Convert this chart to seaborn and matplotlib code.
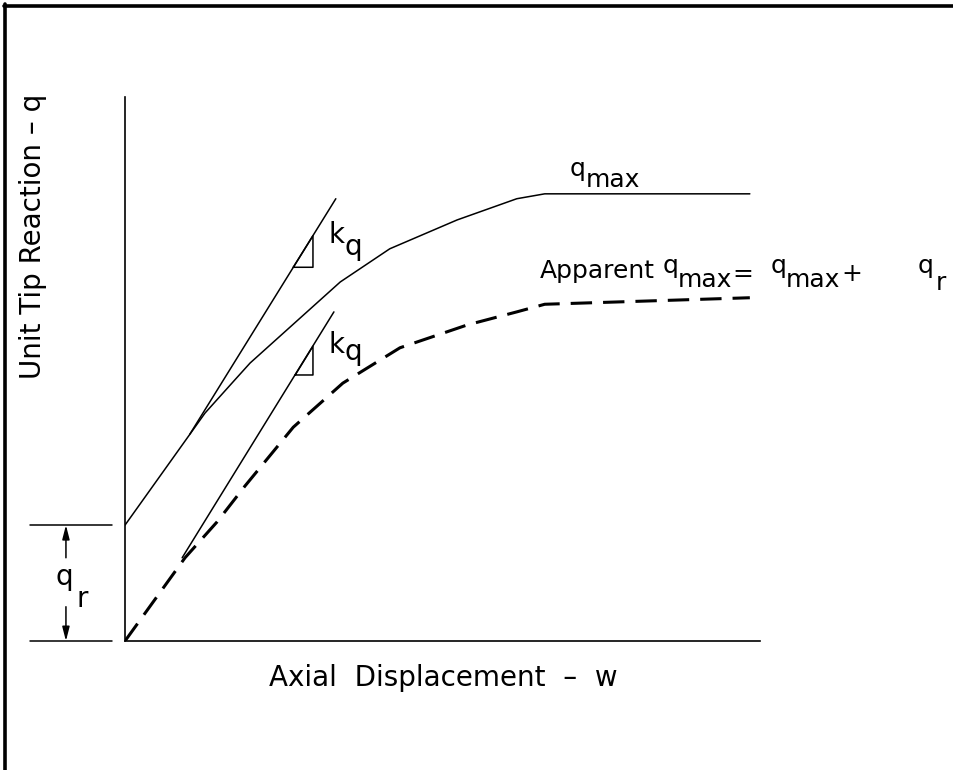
import matplotlib
matplotlib.use("Agg")
import matplotlib.pyplot as plt
import seaborn as sns
from matplotlib.lines import Line2D

# schematic data, axial displacement w vs unit tip reaction q (arbitrary units 0-10)
w_apparent = [0.00, 1.26, 1.73, 1.97, 3.39, 4.17, 5.23, 6.17, 6.61, 9.84]
q_apparent = [2.13, 4.19, 4.80, 5.11, 6.60, 7.21, 7.74, 8.13, 8.22, 8.22]

w_true = [0.00, 0.945, 1.45, 1.89, 2.65, 3.43, 4.33, 5.39, 6.17, 6.61, 9.84]
q_true = [0.00, 1.53, 2.19, 2.85, 3.93, 4.74, 5.39, 5.81, 6.05, 6.19, 6.31]

q_residual = 2.13

# initial stiffness (k_q) tangents
w_tan1 = [1.02, 3.32]
q_tan1 = [3.80, 8.13]
w_tan2 = [0.90, 3.29]
q_tan2 = [1.53, 6.05]

# slope triangles
w_tri1 = [2.65, 2.96, 2.96, 2.65]
q_tri1 = [6.87, 6.87, 7.45, 6.87]
w_tri2 = [2.68, 2.96, 2.96, 2.68]
q_tri2 = [4.89, 4.89, 5.42, 4.89]

FS = 20
FS_NOTE = 18

sns.set_theme(style="white")
plt.rcParams['font.family'] = ['DejaVu Sans']
plt.rcParams['text.color'] = 'black'

fig = plt.figure(figsize=(9.54, 7.70), dpi=100)
ax = fig.add_axes([125 / 954, 129 / 770, 635 / 954, 544 / 770])
ax.set_xlim(0, 10)
ax.set_ylim(0, 10)
ax.set_xticks([])
ax.set_yticks([])
for side in ["top", "right"]:
    ax.spines[side].set_visible(False)
for side in ["left", "bottom"]:
    ax.spines[side].set_color("black")
    ax.spines[side].set_linewidth(1.2)

line_kw = dict(sort=False, estimator=None, color="black", ax=ax)
sns.lineplot(x=w_apparent, y=q_apparent, lw=1.1, **line_kw)
sns.lineplot(x=w_true, y=q_true, lw=2.2, linestyle=(0, (7, 3.6)), **line_kw)
sns.lineplot(x=w_tan1, y=q_tan1, lw=1.1, **line_kw)
sns.lineplot(x=w_tan2, y=q_tan2, lw=1.1, **line_kw)
sns.lineplot(x=w_tri1, y=q_tri1, lw=1.1, **line_kw)
sns.lineplot(x=w_tri2, y=q_tri2, lw=1.1, **line_kw)

# q_r dimension at the left
for qv in [0, q_residual]:
    ax.plot([-1.50, -0.20], [qv, qv], color="black", lw=1.1, clip_on=False)
arrow = dict(arrowstyle="-|>,head_length=0.7,head_width=0.18", color="black",
             lw=1.1, shrinkA=0, shrinkB=0)
ax.annotate("", xy=(-0.93, q_residual), xytext=(-0.93, 1.53), arrowprops=arrow,
            annotation_clip=False)
ax.annotate("", xy=(-0.93, 0), xytext=(-0.93, 0.63), arrowprops=arrow,
            annotation_clip=False)
ax.text(-1.10, 1.03, "q", fontsize=FS, ha="left", va="baseline", clip_on=False)
ax.text(-0.76, 0.62, "r", fontsize=FS, ha="left", va="baseline", clip_on=False)

# k_q labels
for qk, qs in [(7.32, 7.10), (5.29, 5.17)]:
    ax.text(3.20, qk, "k", fontsize=FS, ha="left", va="baseline")
    ax.text(3.46, qs, "q", fontsize=FS, ha="left", va="baseline")

# q_max label
ax.text(7.00, 8.55, "q", fontsize=FS_NOTE, ha="left", va="baseline")
ax.text(7.26, 8.35, "max", fontsize=FS_NOTE, ha="left", va="baseline")

# apparent q_max label
pieces = [("Apparent", 6.535, 6.673), ("q", 8.46, 6.765), ("max", 8.71, 6.507),
          ("=", 9.57, 6.618), ("q", 10.16, 6.765), ("max", 10.41, 6.507),
          ("+", 11.28, 6.618), ("q", 12.49, 6.765), ("r", 12.76, 6.452)]
for txt, xw, yq in pieces:
    ax.text(xw, yq, txt, fontsize=FS_NOTE, ha="left", va="baseline", clip_on=False)

# axis titles
ax.text(5.02, -0.68, "Axial  Displacement  \u2013  w", fontsize=FS,
        ha="center", va="center", clip_on=False)
ax.text(-1.45, 7.43, "Unit Tip Reaction \u2013 q", fontsize=FS, rotation=90,
        ha="center", va="center", clip_on=False)

# frame edges of the original drawing
fig.add_artist(Line2D([5.5 / 954, 5.5 / 954], [0, 1 - 4 / 770], color="black", lw=2.6))
fig.add_artist(Line2D([4 / 954, 1], [1 - 6 / 770, 1 - 6 / 770], color="black", lw=2.6))

fig.savefig("out.png", dpi=100)
